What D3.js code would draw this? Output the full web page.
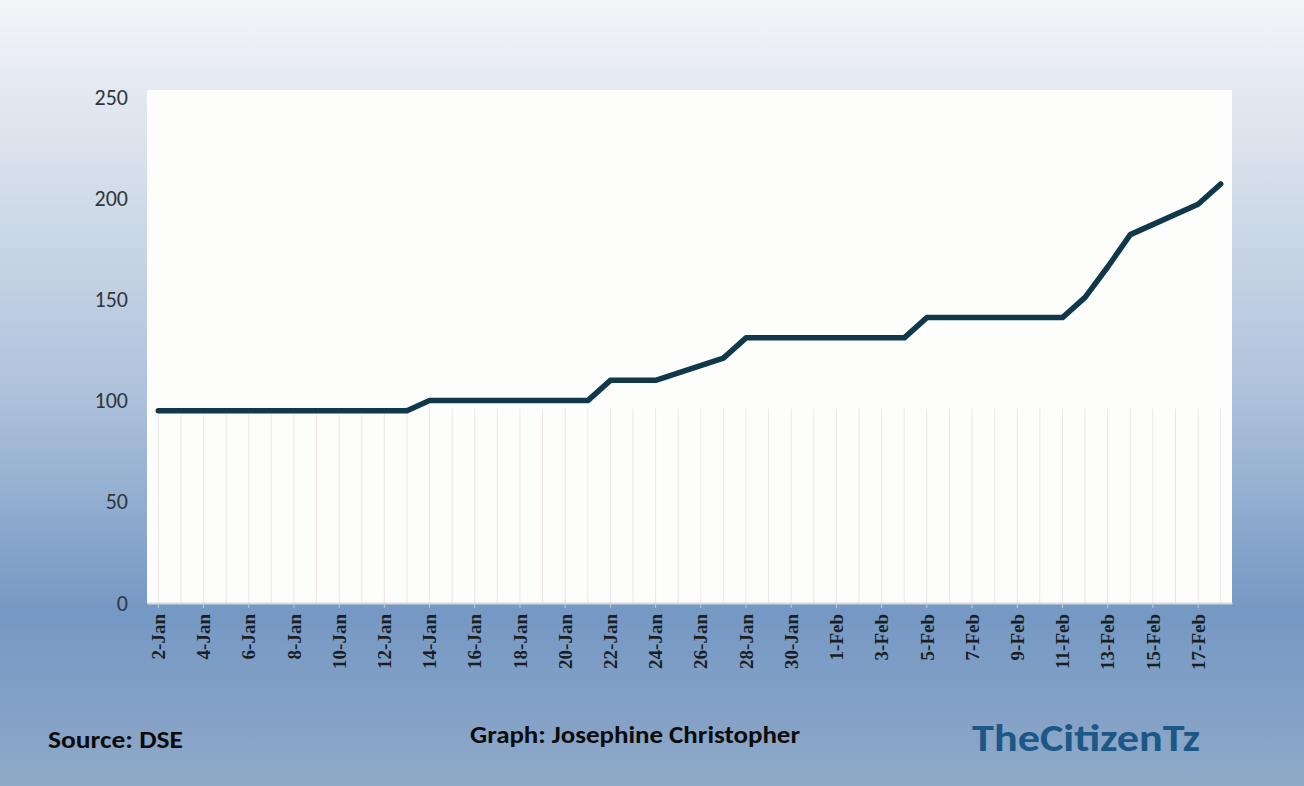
<!DOCTYPE html>
<html>
<head>
<meta charset="utf-8">
<script src="https://cdn.jsdelivr.net/npm/d3@7"></script>
<style>
    body { margin: 0; padding: 0; overflow: hidden; }
</style>
</head>
<body>
<script>
(function(){

    //trading days shown on the chart (2020), weekends are skipped
    var tradeDates = [
        "2020-01-02", "2020-01-03", "2020-01-06", "2020-01-07", "2020-01-08", "2020-01-09", "2020-01-10",
        "2020-01-13", "2020-01-14", "2020-01-15", "2020-01-16", "2020-01-17", "2020-01-20", "2020-01-21",
        "2020-01-22", "2020-01-23", "2020-01-24", "2020-01-27", "2020-01-28", "2020-01-29", "2020-01-30",
        "2020-01-31", "2020-02-03", "2020-02-04", "2020-02-05", "2020-02-06", "2020-02-07", "2020-02-10",
        "2020-02-11", "2020-02-12", "2020-02-13", "2020-02-14", "2020-02-17", "2020-02-18"
    ];

    //share price
    var prices = [
        95, 95, 95, 95, 95, 95, 95,
        95, 100, 100, 100, 100, 100, 100,
        110, 110, 110, 121, 131, 131, 131,
        131, 131, 131, 141, 141, 141, 141,
        141, 151, 166, 182, 197, 207
    ];

    //axis range and tick labels
    var firstDay = "2020-01-02",
        lastDay = "2020-02-18";
    var yTicks = [0, 50, 100, 150, 200, 250];

    var footerLeft = "Source: DSE",
        footerMid = "Graph: Josephine Christopher",
        brand = "TheCitizenTz";

    window.onload = setChart();

    function setChart() {
        var width = 1304,
            height = 786;

        var svg = d3.select("body")
            .append("svg")
            .attr("width", width)
            .attr("height", height);

        //blue-grey page background, light at the top and darker lower down
        var defs = svg.append("defs");
        var grad = defs.append("linearGradient")
            .attr("id", "bg")
            .attr("x1", 0).attr("y1", 0)
            .attr("x2", 0).attr("y2", 1);
        grad.append("stop").attr("offset", "0%").attr("stop-color", "#f3f5f9");
        grad.append("stop").attr("offset", "15%").attr("stop-color", "#dfe6ef");
        grad.append("stop").attr("offset", "50%").attr("stop-color", "#aec2db");
        grad.append("stop").attr("offset", "78%").attr("stop-color", "#7598c4");
        grad.append("stop").attr("offset", "100%").attr("stop-color", "#8fa9c8");

        svg.append("rect")
            .attr("width", width)
            .attr("height", height)
            .attr("fill", "url(#bg)");

        //plot area
        var left = 147, right = 1232, top = 90, bottom = 603;

        svg.append("rect")
            .attr("x", left)
            .attr("y", top)
            .attr("width", right - left)
            .attr("height", bottom - top)
            .attr("fill", "#fdfdfc");

        var parse = d3.timeParse("%Y-%m-%d");
        var days = d3.timeDay.range(parse(firstDay), d3.timeDay.offset(parse(lastDay), 1));

        //one band per calendar day, like an excel date axis
        var xScale = d3.scaleBand()
            .domain(days.map(function(d) { return +d; }))
            .range([left, right])
            .paddingInner(0)
            .paddingOuter(0);

        var yScale = d3.scaleLinear()
            .domain([0, 250])
            .range([bottom, 97]);

        var xCenter = function(d) {
            return xScale(+d) + xScale.bandwidth() / 2;
        };

        //faint vertical gridlines, one per day
        svg.append("g")
            .selectAll("line")
            .data(days)
            .enter()
            .append("line")
            .attr("x1", xCenter)
            .attr("x2", xCenter)
            .attr("y1", yScale(96))
            .attr("y2", bottom)
            .attr("stroke", "#eee6e6")
            .attr("stroke-width", 1);

        //y axis labels
        var yAxis = d3.axisLeft(yScale)
            .tickValues(yTicks)
            .tickSize(0)
            .tickPadding(0);

        var yG = svg.append("g")
            .attr("transform", "translate(128,0)")
            .call(yAxis);
        yG.select(".domain").remove();
        yG.selectAll("text")
            .attr("fill", "#2f363c")
            .style("font-family", "Carlito, 'Liberation Sans', sans-serif")
            .style("font-size", "22px");

        //x axis with labels every second day
        var labelDays = days.filter(function(d, i) { return i % 2 === 0 && i < days.length - 1; });
        var fmt = d3.timeFormat("%-d-%b");

        var xAxis = d3.axisBottom(xScale)
            .tickValues(labelDays.map(function(d) { return +d; }))
            .tickFormat(function(d) { return fmt(new Date(d)); })
            .tickSize(5)
            .tickSizeOuter(0);

        var xG = svg.append("g")
            .attr("transform", "translate(0," + bottom + ")")
            .call(xAxis);
        xG.select(".domain")
            .attr("stroke", "#d6dade")
            .attr("stroke-width", 2);
        xG.selectAll(".tick line")
            .attr("stroke", "#c8ccd2");
        xG.selectAll("text")
            .attr("transform", "rotate(-90)")
            .attr("x", -11)
            .attr("y", 0)
            .attr("dy", "0.35em")
            .attr("text-anchor", "end")
            .attr("fill", "#1a1f24")
            .style("font-family", "'Liberation Serif', 'DejaVu Serif', serif")
            .style("font-weight", "bold")
            .style("font-size", "19px");

        //price line
        var points = tradeDates.map(function(d, i) {
            return { date: parse(d), value: prices[i] };
        });

        var line = d3.line()
            .x(function(d) { return xCenter(d.date); })
            .y(function(d) { return yScale(d.value); });

        svg.append("path")
            .datum(points)
            .attr("d", line)
            .attr("fill", "none")
            .attr("stroke", "#10384b")
            .attr("stroke-width", 5.5)
            .attr("stroke-linejoin", "round")
            .attr("stroke-linecap", "round");

        //footer texts
        svg.append("text")
            .attr("x", 48)
            .attr("y", 748)
            .text(footerLeft)
            .attr("fill", "#0b0b0b")
            .attr("textLength", 135)
            .attr("lengthAdjust", "spacingAndGlyphs")
            .style("font-family", "Carlito, 'Liberation Sans Narrow', 'DejaVu Sans Condensed', sans-serif")
            .style("font-weight", "bold")
            .style("font-size", "24px");

        svg.append("text")
            .attr("x", 470)
            .attr("y", 743)
            .text(footerMid)
            .attr("fill", "#0b0b0b")
            .attr("textLength", 330)
            .attr("lengthAdjust", "spacingAndGlyphs")
            .style("font-family", "Carlito, 'Liberation Sans Narrow', 'DejaVu Sans Condensed', sans-serif")
            .style("font-weight", "bold")
            .style("font-size", "24px");

        svg.append("text")
            .attr("x", 972)
            .attr("y", 751)
            .text(brand)
            .attr("fill", "#1d5787")
            .attr("textLength", 228)
            .attr("lengthAdjust", "spacingAndGlyphs")
            .style("font-family", "Carlito, 'Liberation Sans', 'DejaVu Sans', sans-serif")
            .style("font-weight", "bold")
            .style("font-size", "38px");
    };
})();
</script>
</body>
</html>
